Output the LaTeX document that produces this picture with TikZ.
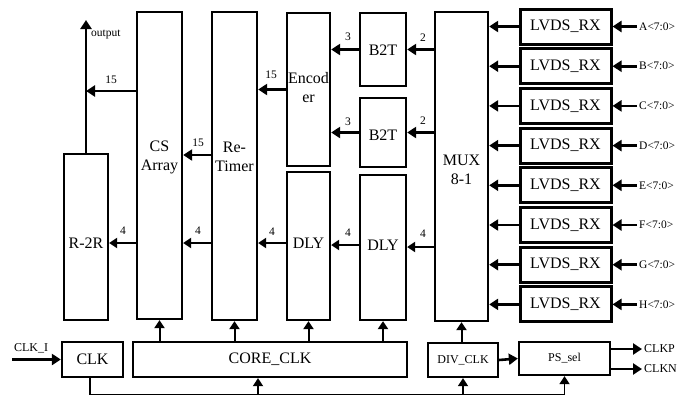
\documentclass[tikz,border=0pt]{standalone}
\usepackage{fontspec}
\setmainfont{Liberation Serif}
\usetikzlibrary{arrows.meta}
\begin{document}
\begin{tikzpicture}[x=1pt,y=-1pt,
  box/.style={draw, line width=2.3pt, inner sep=0pt, rectangle},
  lbox/.style={draw, line width=3pt, inner sep=0pt, rectangle, minimum width=91pt, minimum height=35pt, font=\rmfamily\fontsize{16}{19}\selectfont},
  txt/.style={inner sep=0pt, align=center, font=\rmfamily\fontsize{16}{19}\selectfont},
  small/.style={inner sep=0pt, font=\rmfamily\fontsize{11.5}{13}\selectfont},
  sig/.style={inner sep=0pt, font=\rmfamily\fontsize{12}{14}\selectfont},
  arr/.style={line width=2.6pt, -{Triangle[length=9pt,width=11pt]}},
  arrs/.style={line width=2pt, -{Triangle[length=8pt,width=10pt]}},
  clkline/.style={line width=1.8pt}]
\useasboundingbox (0,0) rectangle (693,397);
% boxes
\node[box, minimum width=44pt, minimum height=166pt] (r2r) at (86,237) {};
\node[txt] (r2rt) at (86,243) {R-2R};
\node[box, minimum width=45pt, minimum height=307pt] (cs) at (159.5,165.5) {};
\node[txt] (cst) at (159.5,157) {CS\\Array};
\node[box, minimum width=45pt, minimum height=308pt] (rt) at (234.5,166) {};
\node[txt] (rtt) at (234.5,157) {Re-\\Timer};
\node[box, minimum width=43pt, minimum height=153pt] (enc) at (308.5,89.5) {};
\node[txt] (enct) at (308.5,88) {Encod\\er};
\node[box, minimum width=46pt, minimum height=73pt] (b2ta) at (383,49.5) {};
\node[txt] (b2tat) at (383,50) {B2T};
\node[box, minimum width=46pt, minimum height=69pt] (b2tb) at (383,132.5) {};
\node[txt] (b2tbt) at (383,135) {B2T};
\node[box, minimum width=43pt, minimum height=148pt] (dly1) at (308.5,246) {};
\node[txt] (dly1t) at (308.5,243) {DLY};
\node[box, minimum width=46pt, minimum height=145pt] (dly2) at (383,247.5) {};
\node[txt] (dly2t) at (383,245) {DLY};
\node[box, minimum width=53pt, minimum height=309pt] (mux) at (461.5,166.5) {};
\node[txt] (muxt) at (461.5,170) {MUX\\8-1};
\node[box, minimum width=61pt, minimum height=35pt, font=\rmfamily\fontsize{16}{19}\selectfont] (clk) at (92.5,359.5) {CLK};
\node[box, minimum width=274pt, minimum height=35pt, font=\rmfamily\fontsize{16}{19}\selectfont] (core) at (270,359.5) {CORE\_CLK};
\node[box, minimum width=70pt, minimum height=34pt, font=\rmfamily\fontsize{12}{14}\selectfont] (div) at (463,360) {DIV\_CLK};
\node[box, minimum width=91pt, minimum height=33pt, font=\rmfamily\fontsize{12}{14}\selectfont] (ps) at (564.5,358.5) {PS\_sel};
% LVDS receivers
\foreach \n/\l [count=\i from 0] in {la/A,lb/B,lc/C,ld/D,le/E,lf/F,lg/G,lh/H}{
  \node[lbox] (\n) at (565.5,{26.5+39.7*\i}) {LVDS\_RX};
  \coordinate (in\n) at (637,{26.5+39.7*\i});
  \draw[arr] (in\n) -- (\n.east);
  \node[small, anchor=west] (t\n) at (639,{26.5+39.7*\i}) {\l<7:0>};
  \draw[arr] (\n.west) -- (mux.east |- \n.west);
}
% data path
\draw[arr] (mux.west |- b2ta.east) -- (b2ta.east);
\node[small] (l2a) at (423,38) {2};
\draw[arr] (mux.west |- b2tb.east) -- (b2tb.east);
\node[small] (l2b) at (423,121) {2};
\draw[arr] (b2ta.west) -- (enc.east |- b2ta.west);
\node[small] (l3a) at (348,37) {3};
\draw[arr] (b2tb.west) -- (enc.east |- b2tb.west);
\node[small] (l3b) at (348,122) {3};
\draw[arr] (enc.west) -- (rt.east |- enc.west);
\node[small] (l15a) at (271,75) {15};
\draw[arr] (rt.west |- 0,155) -- (cs.east |- 0,155);
\node[small] (l15b) at (198,143) {15};
\coordinate (out) at (86,20);
\draw[arr] (r2r.north) -- (out);
\node[small, anchor=west] (outt) at (91,34) {output};
\draw[arr] (cs.west |- 0,91) -- (r2r.north |- 0,91);
\node[small] (l15c) at (111,80) {15};
\draw[arrs] (mux.west |- 0,247) -- (dly2.east |- 0,247);
\node[small] (l4a) at (423,234) {4};
\draw[arrs] (dly2.west |- 0,245) -- (dly1.east |- 0,245);
\node[small] (l4b) at (348,233) {4};
\draw[arrs] (dly1.west |- 0,243) -- (rt.east |- 0,243);
\node[small] (l4c) at (272,232) {4};
\draw[arrs] (rt.west |- 0,243) -- (cs.east |- 0,243);
\node[small] (l4d) at (198,231) {4};
\draw[arrs] (cs.west |- 0,243) -- (r2r.east |- 0,243);
\node[small] (l4e) at (123,231) {4};
% clocks
\draw[arrs] (core.north -| cs) -- (cs.south);
\draw[arrs] (core.north -| rt) -- (rt.south);
\draw[arrs] (core.north -| dly1) -- (dly1.south);
\draw[arrs] (core.north -| dly2) -- (dly2.south);
\draw[arrs] (div.north -| mux) -- (mux.south);
\coordinate (clki) at (12,359.5);
\draw[arr] (clki) -- (clk.west);
\node[sig] (clkit) at (31,348) {CLK\_I};
\coordinate (bus) at (90,394.5);
\draw[clkline] (clk.south -| bus) -- (bus);
\draw[clkline, -{Triangle[length=8pt,width=10pt]}] (bus) -| (ps.south);
\draw[clkline, -{Triangle[length=8pt,width=10pt]}] (258,394.5) -- (core.south -| 258,0);
\draw[clkline, -{Triangle[length=8pt,width=10pt]}] (div.south |- bus) -- (div.south);
\draw[arr] (div.east) -- (ps.west);
\coordinate (clkp) at (642,349);
\coordinate (clkn) at (642,369);
\draw[arr] (ps.east |- clkp) -- (clkp);
\draw[arr] (ps.east |- clkn) -- (clkn);
\node[sig, anchor=west] (clkpt) at (644,349) {CLKP};
\node[sig, anchor=west] (clknt) at (644,369) {CLKN};
\end{tikzpicture}
\end{document}
